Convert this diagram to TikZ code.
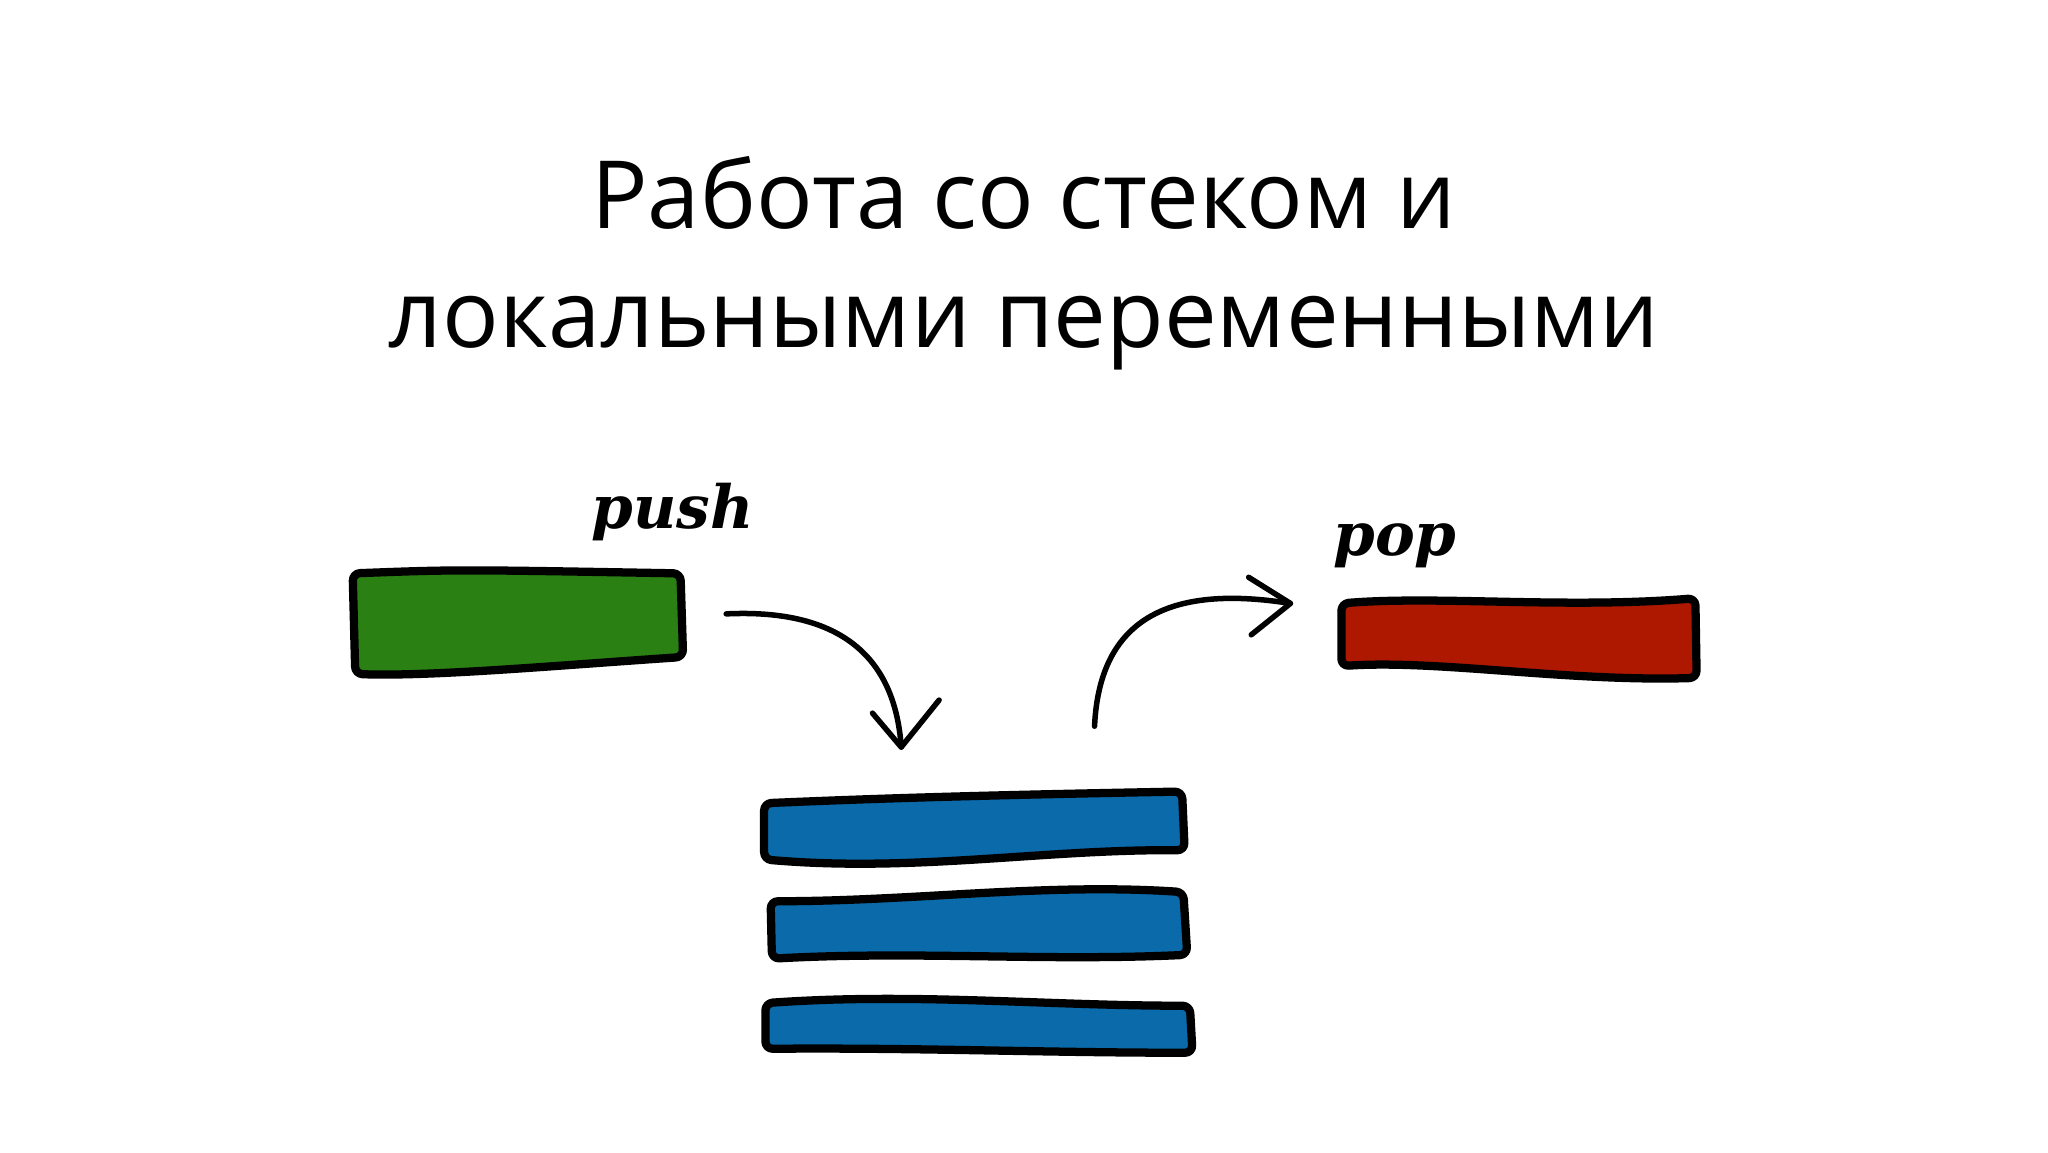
\documentclass[tikz,border=0pt]{standalone}
\usepackage{fontspec}
\setmainfont{Open Sans}
\newfontfamily\handfont{DejaVu Serif}
\begin{document}
\begin{tikzpicture}[x=0.1cm,y=-0.1cm,
  bar/.style={draw=black,line width=18pt,rounded corners=16pt,line join=round},
  hand/.style={draw=black,line width=12pt,line cap=round,line join=round},
  lbl/.style={font=\handfont\itshape\bfseries\fontsize{130}{130}\selectfont}]
\definecolor{gr}{HTML}{2A8012}
\definecolor{rd}{HTML}{AE1800}
\definecolor{bl}{HTML}{0A6AAA}
\fill[white] (0,0) rectangle (1568,882);
\node (t1) at (784,148) {\fontsize{205}{220}\selectfont Работа со стеком и};
\node (t2) at (784,255) {\fontsize{205}{220}\selectfont локальными переменными};
\draw[bar,fill=gr] (270,439) .. controls (350,436) .. (521,439) -- (523,503) .. controls (420,510) and (330,518) .. (272,516) -- cycle;
\draw[bar,fill=rd] (1027,462) .. controls (1100,456) and (1200,466) .. (1298,458) -- (1299,519) .. controls (1200,522) and (1100,505) .. (1027,510) -- cycle;
\draw[bar,fill=bl] (585,615) .. controls (700,610) and (800,608) .. (905,606) -- (907,651) .. controls (800,650) and (700,668) .. (585,658) -- cycle;
\draw[bar,fill=bl] (590,690) .. controls (700,690) and (800,676) .. (906,683) -- (909,731) .. controls (800,736) and (700,728) .. (591,734) -- cycle;
\draw[bar,fill=bl] (586,768) .. controls (700,760) and (800,770) .. (911,770) -- (913,806) .. controls (800,806) and (700,802) .. (586,803) -- cycle;
\coordinate (a1) at (556,470);
\coordinate (a2) at (690,572);
\draw[hand] (a1) .. controls (640,466) and (685,500) .. (a2);
\draw[hand] (668,546) -- (a2) -- (719,536);
\coordinate (b1) at (838,556);
\coordinate (b2) at (988,462);
\draw[hand] (b1) .. controls (842,470) and (900,448) .. (b2);
\draw[hand] (956,442) -- (b2) -- (958,486);
\node[lbl] (push) at (515,392) {push};
\node[lbl] (pop) at (1068,418) {pop};
\end{tikzpicture}
\end{document}
